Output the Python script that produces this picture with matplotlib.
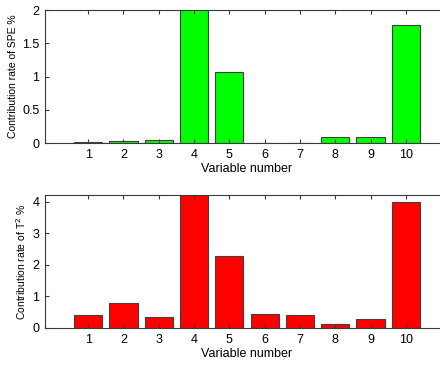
import matplotlib
matplotlib.use("Agg")
import matplotlib.pyplot as plt

# contribution plots
variables = [1, 2, 3, 4, 5, 6, 7, 8, 9, 10]
spe_contrib = [0.01, 0.025, 0.05, 2.6, 1.07, 0.002, 0.003, 0.095, 0.095, 1.77]
t2_contrib = [0.41, 0.79, 0.36, 4.6, 2.28, 0.43, 0.42, 0.12, 0.27, 4.0]
spe_yticks = [0, 0.5, 1, 1.5, 2]
spe_yticklabels = ["0", "0.5", "1", "1.5", "2"]
t2_yticks = [0, 1, 2, 3, 4]

plt.rcParams["font.family"] = ["Liberation Sans", "DejaVu Sans"]

W, H = 440, 365
fig = plt.figure(figsize=(W / 100, H / 100), dpi=100)

SPINE = "#3a3a3a"


def panel(top_px, bot_px, vals, color, ylim, yticks, yticklabels, ylabel):
    left_px, right_px = 45, 449
    ax = fig.add_axes([left_px / W, 1 - bot_px / H,
                       (right_px - left_px) / W, (bot_px - top_px) / H])
    ax.bar(variables, vals, width=0.8, color=color, edgecolor="#404040",
           linewidth=0.8)
    ax.set_xlim(-0.22, 11.22)
    ax.set_ylim(*ylim)
    ax.set_xticks(variables)
    ax.set_yticks(yticks)
    ax.set_yticklabels(yticklabels)
    ax.tick_params(direction="in", top=True, right=True, length=3,
                   width=0.8, color=SPINE, labelsize=9, pad=4)
    for s in ax.spines.values():
        s.set_color(SPINE)
        s.set_linewidth(0.8)
    ax.set_xlabel("Variable number", fontsize=9, labelpad=2)
    ax.set_ylabel(ylabel, fontsize=7.5, labelpad=3)
    return ax


panel(10, 143, spe_contrib, "#00ff00", (0, 2), spe_yticks, spe_yticklabels,
      "Contribution rate of SPE %")
panel(195, 328, t2_contrib, "#ff0000", (0, 4.22), t2_yticks,
      [str(t) for t in t2_yticks], "Contribution rate of T$^2$ %")

fig.savefig("out.png", dpi=100)
